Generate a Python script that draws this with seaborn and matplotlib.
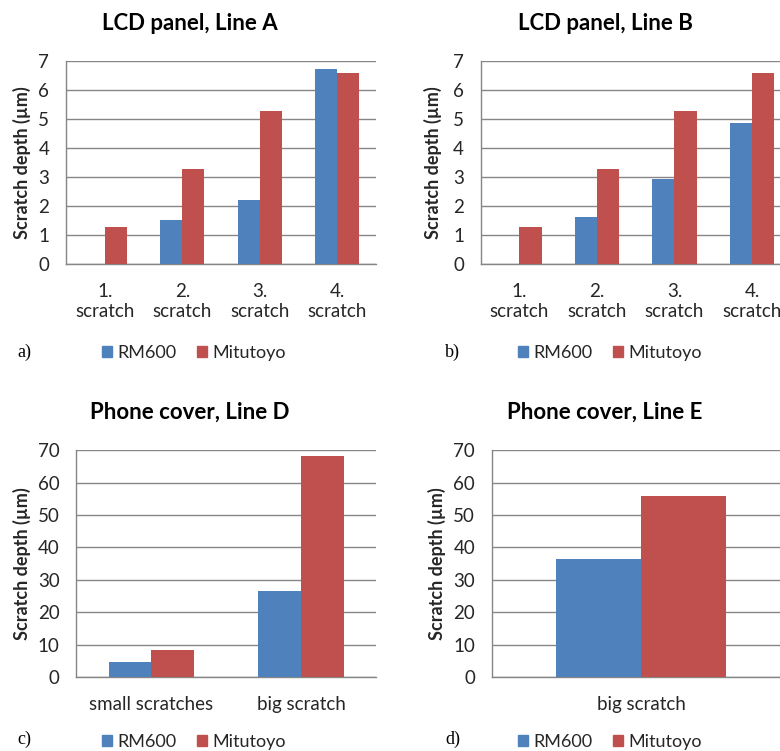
import numpy as np
import pandas as pd
import matplotlib
matplotlib.use("Agg")
import matplotlib.pyplot as plt
import seaborn as sns

sns.set_theme(style="white")
plt.rcParams["font.family"] = ["Lato", "DejaVu Sans"]

# Instruments and colours
instruments = ["RM600", "Mitutoyo"]
palette = {"RM600": "#4F81BD", "Mitutoyo": "#C0504D"}

# LCD panel scratches (µm); RM600 could not resolve the first scratch
lcd_categories = ["1.\nscratch", "2.\nscratch", "3.\nscratch", "4.\nscratch"]
line_a_rm600 = [np.nan, 1.52, 2.2, 6.72]
line_a_mitutoyo = [1.28, 3.28, 5.29, 6.58]
line_b_rm600 = [np.nan, 1.63, 2.93, 4.86]
line_b_mitutoyo = [1.28, 3.28, 5.29, 6.58]

# Phone cover scratches (µm)
line_d_categories = ["small scratches", "big scratch"]
line_d_rm600 = [4.5, 26.5]
line_d_mitutoyo = [8.3, 68.2]
line_e_categories = ["big scratch"]
line_e_rm600 = [36.5]
line_e_mitutoyo = [55.8]

panels = [
    dict(title="LCD panel, Line A", tag="a)", cats=lcd_categories,
         rm=line_a_rm600, mi=line_a_mitutoyo, ymax=7, step=1),
    dict(title="LCD panel, Line B", tag="b)", cats=lcd_categories,
         rm=line_b_rm600, mi=line_b_mitutoyo, ymax=7, step=1),
    dict(title="Phone cover, Line D", tag="c)", cats=line_d_categories,
         rm=line_d_rm600, mi=line_d_mitutoyo, ymax=70, step=10),
    dict(title="Phone cover, Line E", tag="d)", cats=line_e_categories,
         rm=line_e_rm600, mi=line_e_mitutoyo, ymax=70, step=10),
]

W, H = 780, 751
fig = plt.figure(figsize=(W / 100, H / 100), dpi=100)

# axes boxes in pixels: left, top, right, bottom
boxes = [
    (66, 61, 376, 264),
    (480.7, 61, 790.7, 264),
    (76.3, 450.3, 376, 677),
    (491.7, 450.3, 790.3, 677),
]
title_pos = [(190, 24), (605, 24), (190, 412), (605, 412)]
ylabel_x = [21.7, 433, 22, 436.7]
legend_pos = [(194, 353), (610, 353), (194, 742), (610, 742)]
tag_pos = [(17, 352), (445, 352), (17, 739), (445, 739)]

grid_color = "#868686"
text_color = "#262626"

for p, box, tpos, ylx, lpos, tgpos in zip(panels, boxes, title_pos, ylabel_x,
                                          legend_pos, tag_pos):
    l, t, r, b = box
    ax = fig.add_axes([l / W, 1 - b / H, (r - l) / W, (b - t) / H])
    n = len(p["cats"])
    df = pd.DataFrame({
        "category": list(p["cats"]) * 2,
        "instrument": ["RM600"] * n + ["Mitutoyo"] * n,
        "depth": list(p["rm"]) + list(p["mi"]),
    })
    sns.barplot(data=df, x="category", y="depth", hue="instrument",
                order=p["cats"], hue_order=instruments, palette=palette,
                width=0.57, gap=0, saturation=1, linewidth=0,
                errorbar=None, ax=ax, zorder=3)
    ax.set_xlim(-0.5, n - 0.5)
    ax.set_ylim(0, p["ymax"])
    ax.set_yticks(np.arange(0, p["ymax"] + p["step"] / 2, p["step"]))
    ax.yaxis.grid(True, color=grid_color, linewidth=1.0, zorder=0)
    ax.set_axisbelow(True)
    for side in ["top", "right"]:
        ax.spines[side].set_visible(False)
    for side in ["left", "bottom"]:
        ax.spines[side].set_color(grid_color)
        ax.spines[side].set_linewidth(1.0)
    ax.tick_params(axis="both", length=0, labelsize=13.5, colors=text_color)
    ax.tick_params(axis="x", pad=14)
    ax.tick_params(axis="y", pad=12)
    for lbl in ax.get_xticklabels():
        lbl.set_linespacing(1.15)
    ax.set_xlabel("")
    ax.set_ylabel("")
    leg = ax.get_legend()
    if leg is not None:
        leg.remove()

    fig.text(tpos[0] / W, 1 - tpos[1] / H, p["title"], ha="center",
             va="center", fontsize=16, fontweight="bold", color="black")
    fig.text(ylx / W, 1 - ((t + b) / 2) / H, "Scratch depth (µm)",
             rotation=90, ha="center", va="center", fontsize=13,
             fontweight="bold", color=text_color)
    handles = [plt.Rectangle((0, 0), 1, 1, color=palette[k]) for k in instruments]
    fig.legend(handles, instruments, loc="center",
               bbox_to_anchor=(lpos[0] / W, 1 - lpos[1] / H), ncol=2,
               frameon=False, fontsize=13, handlelength=0.55,
               handleheight=0.55, handletextpad=0.3, columnspacing=1.1,
               labelcolor=text_color)
    fig.text(tgpos[0] / W, 1 - tgpos[1] / H, p["tag"], ha="left", va="center",
             fontsize=13, family=["Liberation Serif", "DejaVu Serif"],
             color="black")

fig.savefig("out.png", dpi=100)
